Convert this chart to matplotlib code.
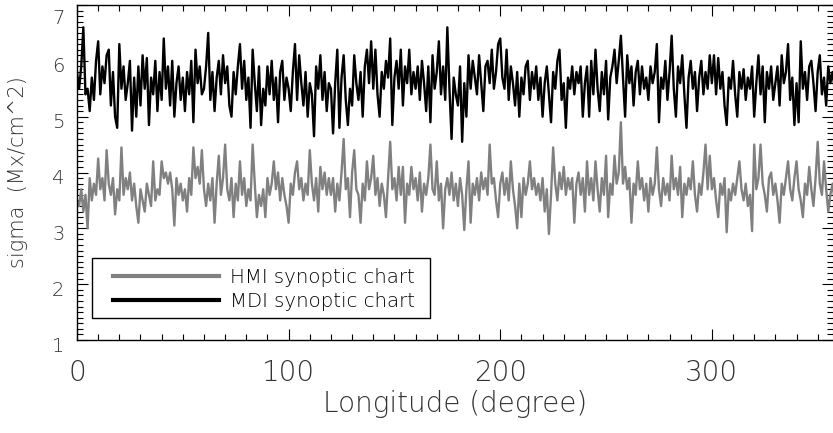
import numpy as np
import matplotlib
matplotlib.use("Agg")
import matplotlib.pyplot as plt
from matplotlib.ticker import MultipleLocator
from matplotlib.patches import Rectangle
import matplotlib.transforms as mtransforms

longitude = list(range(0, 360))

mdi_sigma = [
    5.8, 5.5, 5.9, 6.6, 5.4, 5.5, 5.1, 5.7, 5.3, 6.0, 6.35, 5.4, 5.9, 5.6, 6.1, 6.2, 5.2, 5.8, 5.0, 4.8,
    6.3, 5.5, 5.9, 5.3, 5.6, 6.0, 4.75, 5.7, 5.0, 5.9, 5.2, 6.1, 5.5, 6.05, 4.85, 5.7, 5.4, 6.0, 5.1, 5.8,
    5.3, 6.4, 5.5, 5.9, 5.2, 6.0, 5.0, 5.6, 5.9, 5.3, 5.7, 5.1, 5.8, 5.4, 6.0, 4.9, 6.2, 5.6, 5.9, 5.4,
    5.5, 5.9, 6.5, 5.3, 5.8, 5.1, 5.7, 6.0, 5.4, 6.1, 5.6, 5.9, 5.2, 5.0, 5.8, 5.4, 5.9, 6.3, 5.5, 6.0,
    5.3, 5.7, 4.8, 6.2, 5.6, 5.1, 5.9, 4.85, 5.5, 5.2, 5.9, 5.4, 6.0, 5.3, 5.7, 4.9, 5.8, 6.0, 5.3, 5.7,
    5.5, 5.1, 5.8, 6.3, 5.3, 6.1, 5.6, 5.2, 5.8, 5.0, 5.6, 5.4, 4.65, 5.9, 5.5, 6.1, 5.3, 5.8, 5.1, 5.6,
    5.5, 4.7, 5.6, 6.2, 4.8, 5.7, 6.1, 5.3, 4.85, 5.5, 5.2, 6.1, 5.6, 5.3, 5.8, 5.0, 5.9, 6.2, 5.6, 6.35,
    5.5, 6.2, 5.4, 5.0, 5.8, 5.5, 6.0, 5.7, 6.4, 4.85, 5.7, 6.0, 5.5, 6.2, 5.2, 5.9, 5.6, 6.2, 5.4, 5.8,
    5.5, 5.9, 5.3, 6.0, 5.6, 5.1, 5.9, 4.9, 6.1, 5.5, 5.8, 6.35, 5.4, 5.9, 5.3, 6.6, 5.5, 4.6, 5.7, 5.4,
    5.2, 5.9, 4.55, 5.6, 5.0, 6.1, 5.5, 6.0, 5.7, 5.4, 6.1, 5.6, 5.1, 5.9, 6.0, 5.6, 6.2, 5.5, 5.8, 6.3,
    6.4, 5.7, 5.5, 6.2, 5.3, 5.9, 5.6, 5.2, 5.8, 5.0, 5.7, 5.4, 5.9, 6.0, 5.3, 5.8, 5.5, 5.9, 5.3, 5.7,
    5.0, 5.6, 5.9, 5.4, 4.9, 5.8, 5.5, 6.0, 6.2, 5.3, 5.6, 4.8, 5.7, 5.5, 5.9, 5.4, 5.8, 5.6, 5.9, 5.0,
    5.6, 5.9, 5.0, 6.0, 5.4, 6.2, 5.5, 5.1, 5.8, 5.4, 6.0, 4.95, 5.7, 5.9, 6.2, 5.6, 6.0, 6.45, 5.7, 5.0,
    6.1, 5.6, 5.9, 5.2, 5.8, 6.0, 5.4, 5.9, 5.5, 5.7, 5.3, 5.9, 5.6, 5.8, 6.3, 4.9, 5.7, 5.5, 6.0, 5.3,
    5.8, 6.45, 5.5, 5.0, 5.9, 5.6, 6.1, 5.4, 4.8, 5.7, 6.0, 5.5, 5.8, 5.1, 5.7, 6.0, 5.4, 5.8, 5.5, 6.1,
    5.6, 6.1, 5.4, 6.05, 5.5, 5.8, 5.2, 4.85, 5.7, 5.5, 6.0, 5.4, 5.0, 5.8, 5.5, 5.85, 5.3, 5.7, 5.5, 5.9,
    5.0, 5.6, 6.1, 5.4, 5.9, 4.9, 5.8, 5.5, 5.9, 5.3, 5.6, 5.9, 5.2, 6.1, 5.6, 5.8, 6.3, 5.3, 5.7, 4.85,
    5.6, 4.9, 6.35, 5.5, 5.8, 5.3, 5.9, 6.0, 5.6, 5.1, 5.8, 6.1, 5.4, 5.7, 5.2, 5.9, 5.6, 5.8, 5.5, 5.7,
]

hmi_sigma = [
    3.5, 3.4, 3.7, 3.3, 3.6, 3.0, 3.9, 3.5, 3.8, 3.6, 4.25, 3.7, 3.9, 3.5, 4.4, 3.8, 3.6, 3.9, 3.25, 3.7,
    3.5, 4.45, 3.6, 3.9, 3.7, 4.0, 3.5, 3.8, 3.4, 3.1, 3.7, 3.5, 3.3, 3.8, 3.6, 3.4, 4.2, 3.5, 3.7, 3.6,
    4.2, 3.9, 4.0, 3.8, 4.0, 3.7, 3.05, 3.9, 3.6, 3.8, 3.5, 3.7, 3.3, 3.9, 3.6, 4.45, 3.9, 4.1, 3.8, 4.4,
    3.7, 3.4, 3.8, 3.5, 3.9, 3.1, 3.8, 4.3, 3.6, 3.9, 4.5, 3.7, 3.5, 3.9, 3.2, 3.8, 3.5, 4.2, 3.6, 3.9,
    3.4, 3.7, 3.5, 4.5, 3.8, 3.2, 3.6, 3.4, 3.7, 3.2, 3.9, 3.6, 3.8, 4.2, 3.7, 4.0, 3.5, 3.9, 3.6, 3.4,
    3.1, 3.8, 3.6, 4.0, 4.2, 3.7, 3.9, 3.5, 3.8, 3.6, 4.4, 3.8, 3.5, 3.9, 3.3, 4.1, 3.7, 4.0, 3.6, 3.9,
    3.6, 3.9, 3.3, 3.8, 3.5, 4.0, 4.6, 3.7, 3.9, 3.2, 4.0, 4.4, 3.7, 3.6, 3.1, 3.8, 3.5, 4.2, 3.7, 3.9,
    4.3, 3.6, 3.9, 3.4, 3.8, 3.6, 3.2, 3.9, 4.55, 3.7, 3.9, 3.5, 4.1, 3.6, 4.1, 3.1, 3.8, 3.6, 4.1, 3.7,
    3.9, 3.5, 4.0, 3.3, 3.8, 3.6, 3.9, 4.5, 3.7, 3.6, 4.2, 3.5, 3.8, 3.0, 3.7, 3.9, 3.6, 4.0, 3.5, 3.8,
    3.4, 3.9, 3.6, 2.97, 3.7, 4.2, 3.1, 3.8, 3.6, 3.9, 3.5, 4.0, 3.7, 3.9, 3.6, 4.5, 3.8, 3.9, 3.5, 3.2,
    3.8, 4.0, 3.6, 3.9, 3.5, 4.2, 3.7, 3.4, 3.0, 3.8, 3.2, 3.9, 3.6, 3.8, 4.2, 3.7, 3.9, 3.6, 3.8, 3.5,
    3.9, 3.3, 3.7, 2.9, 3.6, 4.45, 3.8, 3.5, 4.0, 3.7, 4.1, 3.6, 3.9, 3.7, 3.9, 3.1, 3.8, 4.0, 3.6, 3.9,
    3.3, 4.2, 3.6, 3.9, 3.5, 4.2, 3.7, 3.3, 3.9, 3.6, 4.3, 3.2, 3.8, 3.6, 4.3, 3.8, 4.0, 4.9, 3.8, 4.1,
    3.7, 3.9, 3.1, 3.8, 3.6, 4.2, 3.7, 3.9, 3.5, 3.8, 3.3, 3.9, 3.6, 3.8, 4.45, 3.7, 3.4, 3.9, 3.6, 3.8,
    3.5, 4.3, 3.7, 3.9, 3.6, 4.1, 3.2, 3.8, 3.6, 3.9, 3.7, 4.2, 3.6, 3.3, 3.8, 3.6, 4.0, 4.5, 3.7, 4.3,
    3.7, 3.9, 3.5, 3.2, 3.8, 3.6, 3.9, 2.93, 3.7, 3.5, 3.8, 3.6, 3.9, 4.2, 3.7, 3.5, 3.8, 3.4, 3.6, 2.95,
    4.5, 3.7, 3.9, 4.5, 3.8, 3.6, 3.3, 3.9, 4.0, 3.6, 3.8, 3.5, 3.1, 3.8, 3.6, 3.9, 4.2, 3.7, 3.5, 3.9,
    4.2, 3.7, 3.5, 3.2, 3.8, 3.6, 4.1, 3.7, 3.4, 3.9, 4.55, 3.8, 3.6, 4.2, 3.7, 3.3, 3.6, 3.8, 3.5, 3.6,
]

series_labels = ["HMI synoptic chart", "MDI synoptic chart"]
x_ticks = [0, 100, 200, 300]
y_ticks = [1, 2, 3, 4, 5, 6, 7]

W, H = 833, 433
fig = plt.figure(figsize=(W / 100, H / 100), dpi=100)
left, right, bottom, top = 77, 832.5, 340, 5
ax = fig.add_axes([left / W, (H - bottom) / H, (right - left) / W, (bottom - top) / H])

txt_color = "#333333"

h1, = ax.plot(longitude, hmi_sigma, color="#808080", lw=1.7, label=series_labels[0])
h2, = ax.plot(longitude, mdi_sigma, color="black", lw=1.7, label=series_labels[1])

ax.set_xlim(0, 357)
ax.set_ylim(1, 7)
ax.set_xticks(x_ticks)
ax.set_yticks(y_ticks)
ax.xaxis.set_minor_locator(MultipleLocator(10))
ax.yaxis.set_minor_locator(MultipleLocator(0.1))
ax.tick_params(which="both", direction="in", top=True, right=True, color="black", width=0.8)
ax.tick_params(which="major", length=8)
ax.tick_params(which="minor", length=4)
ax.tick_params(axis="x", labelsize=20, pad=14, labelcolor=txt_color)
ax.tick_params(axis="y", labelsize=14, pad=9, labelcolor=txt_color)

fig.canvas.draw()
shift = mtransforms.ScaledTranslation(0, -3 / 72, fig.dpi_scale_trans)
for lab in ax.get_xticklabels():
    lab.set_fontweight("light")
for lab in ax.get_yticklabels():
    lab.set_fontweight("light")
    lab.set_transform(lab.get_transform() + shift)
    if lab.get_text() == "7":
        lab.set_verticalalignment("top")

for s in ["left", "bottom", "top"]:
    ax.spines[s].set_linewidth(1.0)
ax.spines["right"].set_linestyle((0, (1, 2)))
ax.spines["right"].set_color("#555555")

ax.set_xlabel("Longitude (degree)", fontsize=20, color=txt_color, labelpad=2, fontweight="light")
ax.set_ylabel("sigma  (Mx/cm^2)", fontsize=15, color=txt_color, labelpad=17, fontweight="light")

# legend box and entries
box = Rectangle((92, H - 318), 338, 60, facecolor="white",
                edgecolor="black", linewidth=1.0, zorder=5)
box.set_transform(mtransforms.IdentityTransform())
fig.patches.append(box)

leg = fig.legend(handles=[h1, h2], loc="center left",
                 bbox_to_anchor=(113 / W, (H - 289.5) / H),
                 frameon=False, fontsize=14.2,
                 handlelength=5.35, handletextpad=0.6, borderpad=0.0, labelspacing=0.22,
                 borderaxespad=0)
leg.set_zorder(6)
for line in leg.get_lines():
    line.set_linewidth(3)
for t in leg.get_texts():
    t.set_color("black")
    t.set_fontweight("light")

fig.savefig("out.png", dpi=100)
